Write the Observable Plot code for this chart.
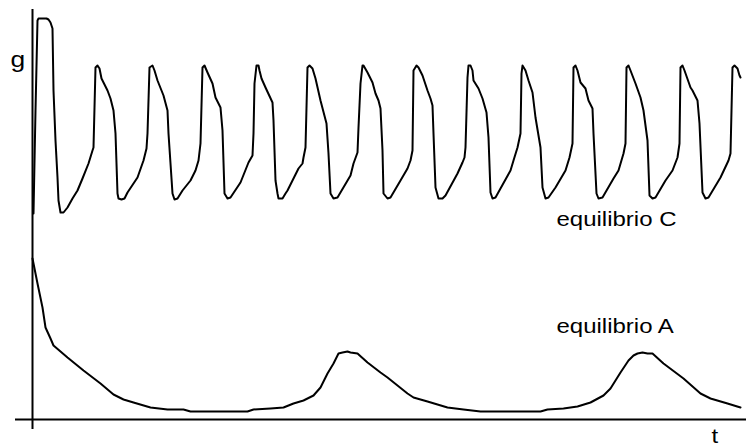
<!DOCTYPE html>
<html>
<head>
<meta charset="utf-8">
<script src="https://cdn.jsdelivr.net/npm/d3@7"></script>
<script src="https://cdn.jsdelivr.net/npm/@observablehq/plot@0.6"></script>
<style>
  html, body { margin: 0; padding: 0; background: #fff; }
</style>
</head>
<body>
<div id="chart"></div>
<script>
// Trajectory toward equilibrium C: an initial overshoot, then sustained relaxation oscillations
const tC = [1, 3, 5, 6, 14, 16, 18, 20, 21, 23, 25, 26, 28, 31, 35, 40, 45, 50, 56, 60, 61,
  63, 65, 67, 69, 75, 78, 81, 83, 85, 86, 89, 92, 95, 105, 111, 114, 115,
  117, 120, 122, 125, 131, 135, 136, 140, 142, 145, 150, 158, 163, 166, 168,
  170, 172, 175, 180, 183, 188, 190, 192, 195, 198, 208, 216, 220, 221,
  222, 224, 226, 227, 229, 233, 240, 241, 243, 245, 246, 250, 253, 255, 266, 270, 271, 273,
  275, 277, 280, 283, 288, 294, 296, 298, 301, 305, 318, 321, 325, 326,
  328, 330, 331, 335, 340, 343, 346, 348, 350, 351, 355, 358, 368, 375, 378, 380,
  381, 384, 386, 390, 395, 398, 400, 401, 403, 406, 410, 413, 425, 430, 432, 433,
  435, 436, 438, 440, 441, 446, 450, 454, 456, 458, 460, 463, 468, 478, 481, 485, 488,
  489, 490, 493, 496, 500, 503, 508, 510, 513, 516, 523, 533, 537, 540,
  541, 543, 545, 548, 553, 556, 560, 561, 564, 566, 570, 581, 586, 591, 593,
  594, 596, 598, 603, 608, 611, 615, 617, 620, 623, 633, 640, 645, 647,
  648, 650, 652, 658, 660, 665, 667, 670, 673, 676, 688, 696, 698,
  700, 702, 705, 707, 708];
const gC = [206, 309, 399, 401, 401, 400, 397, 391, 329, 279, 242, 219, 207, 207, 212, 221, 229, 241, 256, 269, 272,
  352, 354, 351, 341, 329, 321, 309, 286, 226, 221, 220, 221, 227, 242, 259, 271, 286,
  352, 354, 349, 339, 324, 309, 286, 226, 220, 221, 229, 239, 249, 259, 276,
  352, 354, 347, 336, 322, 312, 289, 226, 221, 222, 237, 257, 264, 286,
  336, 354, 354, 349, 341, 332, 317, 299, 239, 226, 221, 221, 226, 229, 251, 256, 262, 272,
  352, 354, 351, 341, 319, 296, 266, 226, 221, 222, 244, 256, 267, 292,
  336, 354, 354, 347, 337, 326, 319, 311, 269, 226, 221, 222, 239, 251, 259, 269,
  349, 354, 352, 344, 329, 321, 314, 286, 232, 221, 221, 224, 246, 257, 262, 272,
  342, 354, 354, 349, 339, 331, 321, 307, 282, 227, 221, 222, 231, 249, 259, 272, 286,
  346, 354, 349, 339, 327, 302, 272, 232, 221, 222, 232, 249, 262, 276,
  352, 354, 349, 337, 331, 319, 311, 286, 226, 221, 222, 241, 249, 266, 276,
  352, 354, 349, 336, 322, 309, 279, 224, 221, 222, 239, 249, 262, 276,
  352, 354, 349, 332, 329, 319, 296, 227, 221, 222, 242, 259, 266,
  352, 354, 351, 344, 342];

// Trajectory toward equilibrium A: a decay, then two slow humps
const tA = [0, 5, 10, 13, 18, 21, 35, 51, 68, 81, 91, 101, 118, 135, 151, 158, 185, 215,
  221, 238, 251, 261, 271, 281, 288, 295, 301, 306, 310, 315, 318, 325, 335, 348,
  355, 375, 381, 395, 415, 431, 448, 478, 508, 515, 531, 545, 558, 571, 578, 588,
  596, 601, 605, 610, 615, 620, 631, 651, 668, 678, 695, 708];
const gA = [161, 136, 112, 92, 81, 74, 62, 49, 36, 25, 20, 17, 12, 10, 10, 8, 8, 8,
  10, 11, 12, 16, 19, 24, 32, 46, 56, 66, 67, 68, 67, 66, 57, 47,
  42, 26, 22, 18, 12, 10, 8, 8, 8, 10, 11, 13, 17, 24, 31, 47,
  59, 64, 66, 67, 66, 66, 56, 41, 26, 21, 16, 12];

const seriesC = tC.map((t, i) => ({t, g: gC[i]}));
const seriesA = tA.map((t, i) => ({t, g: gA[i]}));

const font = "Liberation Sans, Arial, Helvetica, sans-serif";

const chart = Plot.plot({
  width: 746,
  height: 447,
  marginLeft: 32,
  marginRight: 0,
  marginTop: 9,
  marginBottom: 28,
  x: {domain: [0, 714], axis: null},
  y: {domain: [0, 410], axis: null},
  style: {fontFamily: font, background: "white", color: "black"},
  marks: [
    // axes drawn as plain lines, slightly overshooting the origin
    Plot.ruleX([0], {y1: -10, y2: 410, stroke: "black", strokeWidth: 2}),
    Plot.ruleY([0], {x1: -17, x2: 714, stroke: "black", strokeWidth: 2}),
    Plot.line(seriesC, {x: "t", y: "g", stroke: "black", strokeWidth: 2, strokeLinejoin: "round"}),
    Plot.line(seriesA, {x: "t", y: "g", stroke: "black", strokeWidth: 2, strokeLinejoin: "round"}),
    Plot.text(["g"], {x: -22, y: 353, text: d => d, textAnchor: "start", lineAnchor: "bottom", fontSize: 22, fill: "black"}),
    Plot.text(["t"], {x: 679, y: -23, text: d => d, textAnchor: "start", lineAnchor: "bottom", fontSize: 20, fill: "black"}),
    Plot.text(["equilibrio C"], {x: 524, y: 194, text: d => d, textAnchor: "start", lineAnchor: "bottom", fontSize: 20, fill: "black"}),
    Plot.text(["equilibrio A"], {x: 524, y: 87, text: d => d, textAnchor: "start", lineAnchor: "bottom", fontSize: 20, fill: "black"})
  ]
});

// widen the lettering a little, keeping each label's left edge in place
chart.querySelectorAll('g[aria-label="text"] text').forEach(el => {
  const tr = el.getAttribute("transform");
  if (tr) {
    el.setAttribute("transform", tr + " scale(1.2,1)");
  } else {
    const x = +el.getAttribute("x") || 0;
    el.setAttribute("transform", `translate(${x},0) scale(1.2,1) translate(${-x},0)`);
  }
});

document.getElementById("chart").appendChild(chart);
</script>
</body>
</html>
